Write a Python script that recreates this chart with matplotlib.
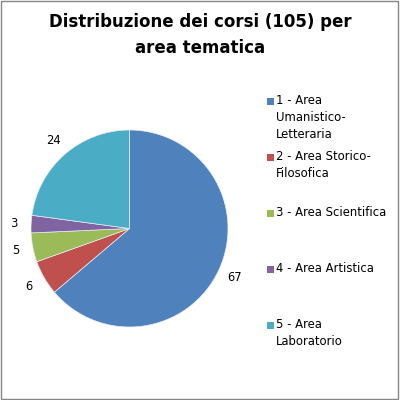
import matplotlib
matplotlib.use("Agg")
import matplotlib.pyplot as plt
from matplotlib.patches import Rectangle

title = "Distribuzione dei corsi (105) per\narea tematica"
categories = ["1 - Area\nUmanistico-\nLetteraria", "2 - Area Storico-\nFilosofica",
              "3 - Area Scientifica", "4 - Area Artistica", "5 - Area\nLaboratorio"]
values = [67, 6, 5, 3, 24]
colors = ["#4F81BD", "#C0504D", "#9BBB59", "#8064A2", "#4BACC6"]

W = H = 400
fig = plt.figure(figsize=(4, 4), dpi=100)
fig.patches.append(Rectangle((0.5 / W, 1.5 / H), 1 - 2.5 / W, 1 - 2.5 / H,
                             transform=fig.transFigure, fill=False,
                             edgecolor="#868686", linewidth=1.0))

cx, cy, r = 129.5, 228.5, 98.5
ax = fig.add_axes([(cx - r) / W, (H - cy - r) / H, 2 * r / W, 2 * r / H])
wedges, texts = ax.pie(values, colors=colors, startangle=90, counterclock=False,
                       radius=1.0, labels=[str(v) for v in values], labeldistance=1.18,
                       wedgeprops=dict(edgecolor="#E8EEF6", linewidth=0.5),
                       textprops=dict(fontsize=8.3, color="black"))
for t in texts:
    t.set_ha("center")
    t.set_va("center")
ax.set_xlim(-1, 1)
ax.set_ylim(-1, 1)
ax.set_aspect("equal")
ax.axis("off")

fig.text(0.5, (H - 35) / H, title, ha="center", va="center", fontsize=12,
         fontweight="bold", linespacing=1.55)

for i, (lab, col) in enumerate(zip(categories, colors)):
    y = 101 + 56 * i
    fig.patches.append(Rectangle((267 / W, (H - y - 3.5) / H), 6.5 / W, 6.5 / H,
                                 transform=fig.transFigure, facecolor=col,
                                 edgecolor="none"))
    fig.text(276 / W, (H - y + 6.5) / H, lab, ha="left", va="top", fontsize=8.4,
             linespacing=1.36)

fig.savefig("out.png", dpi=100, facecolor="white")
